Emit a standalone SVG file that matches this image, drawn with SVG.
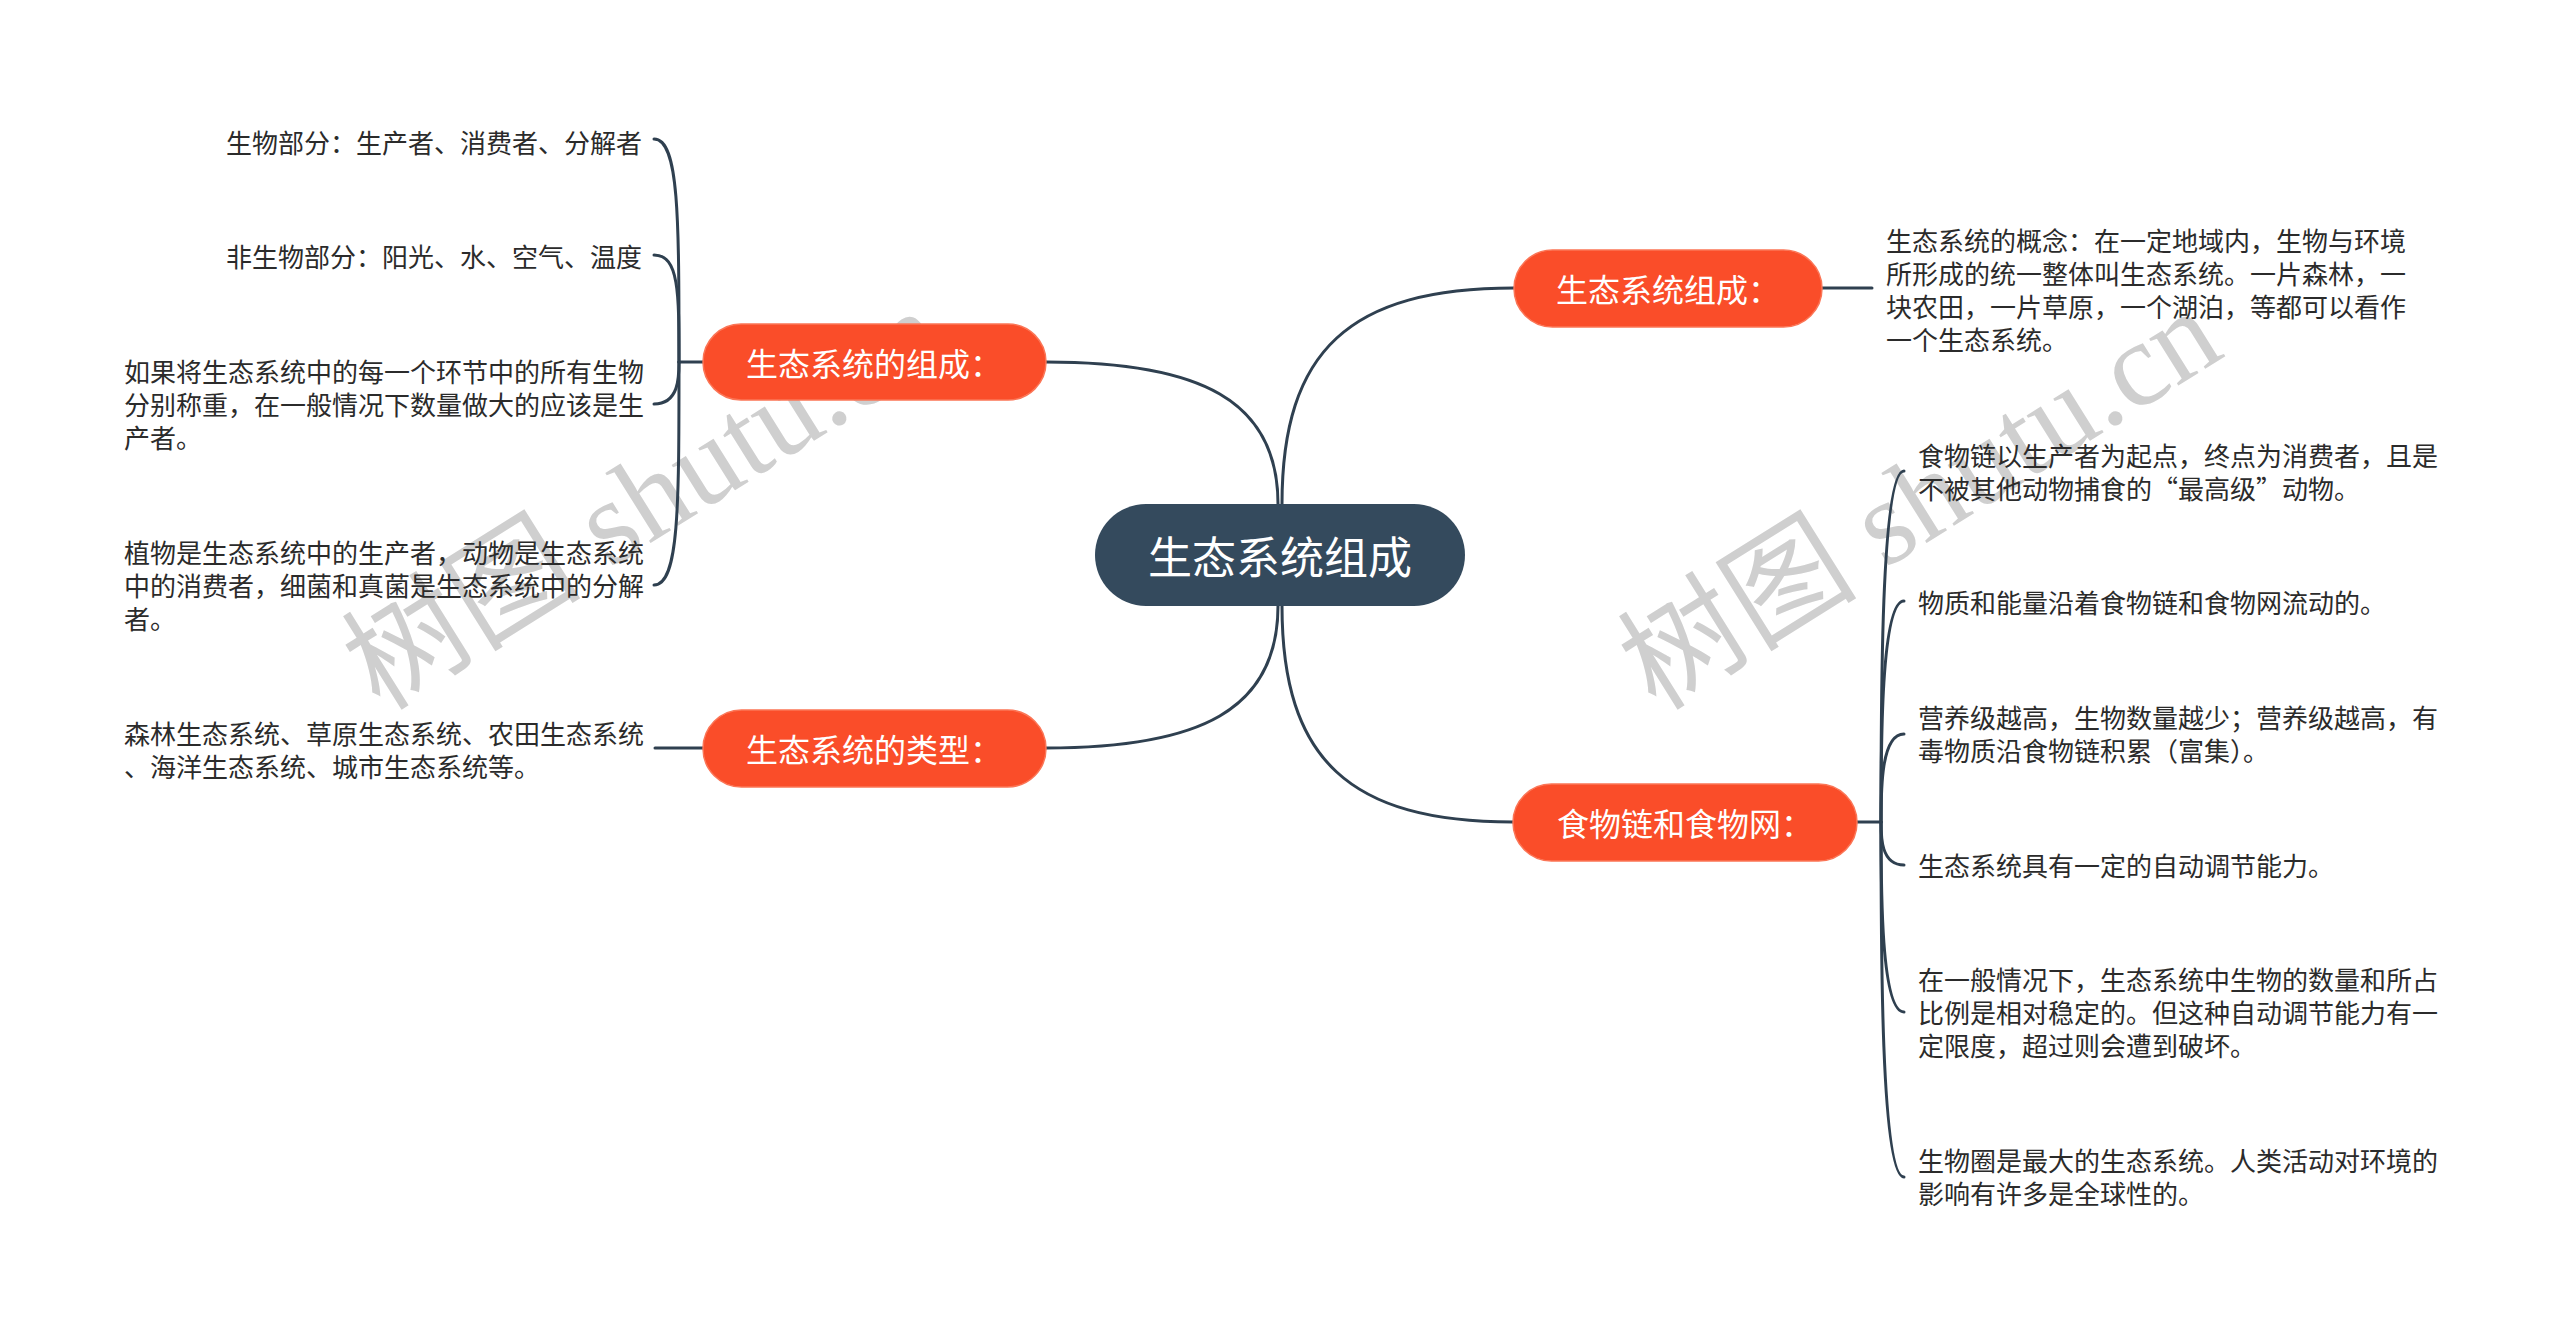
<svg xmlns="http://www.w3.org/2000/svg" width="2560" height="1333" viewBox="0 0 2560 1333">
<style>
.bg{fill:#ffffff}
.wm{font-family:"Liberation Serif","Noto Sans CJK SC",serif;font-size:120px;fill:#cfcfcf}
.line{fill:none;stroke:#2f4050;stroke-width:3;stroke-linecap:round}
.root rect{fill:#344a5d}
.root text{font-family:"Noto Sans CJK SC","Noto Sans",sans-serif;font-size:44px;fill:#ffffff}
.main rect{fill:#fa4d29;stroke:#fb7556;stroke-width:1.5}
.main text{font-family:"Noto Sans CJK SC","Noto Sans",sans-serif;font-size:32px;fill:#ffffff}
.leaf text{font-family:"Noto Sans CJK SC","Noto Sans",sans-serif;font-size:26px;fill:#2b2b2b}
</style>
<rect class="bg" x="0" y="0" width="2560" height="1333"/>
<g id="watermarks">
<text class="wm" x="380" y="712" transform="rotate(-32 380 712)">树图 shutu.cn</text>
<text class="wm" x="1656" y="712" transform="rotate(-32 1656 712)">树图 shutu.cn</text>
</g>
<g id="connectors">
<path class="line" d="M1278 504 C1278 400 1200 362 1046 362"/>
<path class="line" d="M1282 504 C1282 350 1350 288 1514 288"/>
<path class="line" d="M1278 606 C1278 710 1200 748 1046 748"/>
<path class="line" d="M1282 606 C1282 760 1350 822 1513 822"/>
<path class="line" d="M1822 288 L1872 288"/>
<path class="line" d="M703 748 L655 748"/>
<path class="line" d="M703 362 L679 362"/>
<path class="line" d="M679 362 C679 217 679 139 654 139"/>
<path class="line" d="M679 362 C679 292 679 255 654 255"/>
<path class="line" d="M679 362 C679 377 679 404 654 404"/>
<path class="line" d="M679 362 C679 507 679 585 654 585"/>
<path class="line" d="M1857 822 L1881 822"/>
<path class="line" d="M1881 822 C1881 700 1881 471 1904 471"/>
<path class="line" d="M1881 822 C1881 745 1881 601 1904 601"/>
<path class="line" d="M1881 822 C1881 790 1881 734 1904 734"/>
<path class="line" d="M1881 822 C1881 837 1881 865 1904 865"/>
<path class="line" d="M1881 822 C1881 890 1881 1012 1904 1012"/>
<path class="line" d="M1881 822 C1881 948 1881 1177 1904 1177"/>
</g>
<g id="root" class="root">
<rect x="1095" y="504" width="370" height="102" rx="51"/>
<text x="1280" y="555" text-anchor="middle" dominant-baseline="central">生态系统组成</text>
</g>
<g id="n-zucheng" class="main">
<rect x="1514" y="250" width="308" height="77" rx="38.5"/>
<text x="1668" y="288" text-anchor="middle" dominant-baseline="central">生态系统组成：</text>
</g>
<g id="n-de-zucheng" class="main">
<rect x="703" y="324" width="343" height="76" rx="38"/>
<text x="874" y="362" text-anchor="middle" dominant-baseline="central">生态系统的组成：</text>
</g>
<g id="n-leixing" class="main">
<rect x="703" y="710" width="343" height="77" rx="38.5"/>
<text x="874" y="748" text-anchor="middle" dominant-baseline="central">生态系统的类型：</text>
</g>
<g id="n-shiwulian" class="main">
<rect x="1513" y="784" width="344" height="77" rx="38.5"/>
<text x="1685" y="822" text-anchor="middle" dominant-baseline="central">食物链和食物网：</text>
</g>
<g id="leaf-l1" class="leaf">
<text x="642" y="141" text-anchor="end" dominant-baseline="central">生物部分：生产者、消费者、分解者</text>
</g>
<g id="leaf-l2" class="leaf">
<text x="642" y="255" text-anchor="end" dominant-baseline="central">非生物部分：阳光、水、空气、温度</text>
</g>
<g id="leaf-l3" class="leaf">
<text x="124" y="370" dominant-baseline="central">如果将生态系统中的每一个环节中的所有生物</text>
<text x="124" y="403" dominant-baseline="central">分别称重，在一般情况下数量做大的应该是生</text>
<text x="124" y="436" dominant-baseline="central">产者。</text>
</g>
<g id="leaf-l4" class="leaf">
<text x="124" y="551" dominant-baseline="central">植物是生态系统中的生产者，动物是生态系统</text>
<text x="124" y="584" dominant-baseline="central">中的消费者，细菌和真菌是生态系统中的分解</text>
<text x="124" y="617" dominant-baseline="central">者。</text>
</g>
<g id="leaf-l5" class="leaf">
<text x="124" y="732" dominant-baseline="central">森林生态系统、草原生态系统、农田生态系统</text>
<text x="124" y="765" dominant-baseline="central">、海洋生态系统、城市生态系统等。</text>
</g>
<g id="leaf-r0" class="leaf">
<text x="1886" y="239" dominant-baseline="central">生态系统的概念：在一定地域内，生物与环境</text>
<text x="1886" y="272" dominant-baseline="central">所形成的统一整体叫生态系统。一片森林，一</text>
<text x="1886" y="305" dominant-baseline="central">块农田，一片草原，一个湖泊，等都可以看作</text>
<text x="1886" y="338" dominant-baseline="central">一个生态系统。</text>
</g>
<g id="leaf-r1" class="leaf">
<text x="1918" y="454" dominant-baseline="central">食物链以生产者为起点，终点为消费者，且是</text>
<text x="1918" y="487" dominant-baseline="central">不被其他动物捕食的“最高级”动物。</text>
</g>
<g id="leaf-r2" class="leaf">
<text x="1918" y="601" dominant-baseline="central">物质和能量沿着食物链和食物网流动的。</text>
</g>
<g id="leaf-r3" class="leaf">
<text x="1918" y="716" dominant-baseline="central">营养级越高，生物数量越少；营养级越高，有</text>
<text x="1918" y="749" dominant-baseline="central">毒物质沿食物链积累（富集）。</text>
</g>
<g id="leaf-r4" class="leaf">
<text x="1918" y="864" dominant-baseline="central">生态系统具有一定的自动调节能力。</text>
</g>
<g id="leaf-r5" class="leaf">
<text x="1918" y="978" dominant-baseline="central">在一般情况下，生态系统中生物的数量和所占</text>
<text x="1918" y="1011" dominant-baseline="central">比例是相对稳定的。但这种自动调节能力有一</text>
<text x="1918" y="1044" dominant-baseline="central">定限度，超过则会遭到破坏。</text>
</g>
<g id="leaf-r6" class="leaf">
<text x="1918" y="1159" dominant-baseline="central">生物圈是最大的生态系统。人类活动对环境的</text>
<text x="1918" y="1192" dominant-baseline="central">影响有许多是全球性的。</text>
</g>
</svg>
